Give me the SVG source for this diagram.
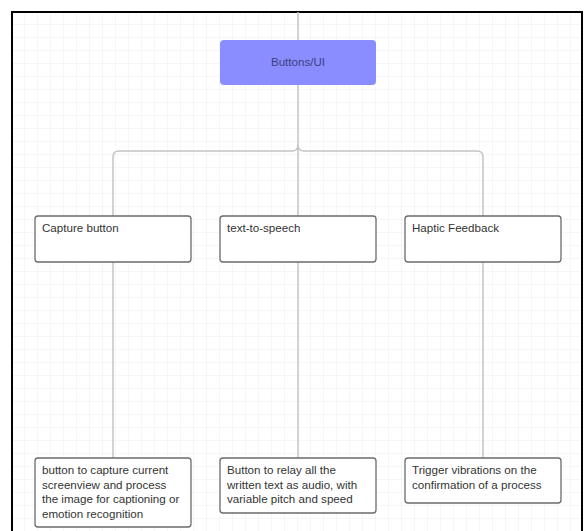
<svg xmlns="http://www.w3.org/2000/svg" width="588" height="531" viewBox="0 0 588 531">
<defs>
<pattern id="grid" width="13" height="13" patternUnits="userSpaceOnUse" x="12" y="12">
<path d="M13,0 V13 M0,13 H13" fill="none" stroke="#ececec" stroke-width="1"/>
</pattern>
<style>
.box{fill:#ffffff;stroke:#6b6b6b;stroke-width:1.3}
.t{font-family:"Liberation Sans",Arial,sans-serif;font-size:11.6px;fill:#333333}
.conn{fill:none;stroke:#c4c4c4;stroke-width:1.5}
</style>
</defs>
<rect x="0" y="0" width="588" height="531" fill="#ffffff"/>
<rect x="12" y="12" width="570" height="525" fill="url(#grid)"/>
<rect x="12" y="12" width="570" height="530" fill="none" stroke="#000000" stroke-width="2"/>
<g id="connectors">
<path class="conn" d="M298,12 V40" stroke="#9a9a9a"/>
<path class="conn" d="M298,85 V216"/>
<path class="conn" d="M298,145 Q298,151 292,151 H119 Q113,151 113,157 V216"/>
<path class="conn" d="M298,145 Q298,151 304,151 H477 Q483,151 483,157 V216"/>
<path class="conn" d="M113,262 V458"/>
<path class="conn" d="M298,262 V458"/>
<path class="conn" d="M483,262 V458"/>
</g>
<g id="buttons-ui">
<rect x="220" y="40" width="156" height="45" rx="4" fill="#8a8dff"/>
<text class="t" x="298" y="66" text-anchor="middle" fill="#3d3f7a" style="fill:#3d3f7a">Buttons/UI</text>
</g>
<g id="capture-button">
<rect class="box" x="35" y="216" width="156" height="46" rx="3"/>
<text class="t" x="42" y="232">Capture button</text>
</g>
<g id="text-to-speech">
<rect class="box" x="220" y="216" width="156" height="46" rx="3"/>
<text class="t" x="227" y="232">text-to-speech</text>
</g>
<g id="haptic-feedback">
<rect class="box" x="405" y="216" width="156" height="46" rx="3"/>
<text class="t" x="412" y="232">Haptic Feedback</text>
</g>
<g id="capture-desc">
<rect class="box" x="35" y="458" width="156" height="69" rx="3"/>
<text class="t" x="42" y="474">button to capture current</text>
<text class="t" x="42" y="488.5">screenview and process</text>
<text class="t" x="42" y="503">the image for captioning or</text>
<text class="t" x="42" y="517.5">emotion recognition</text>
</g>
<g id="tts-desc">
<rect class="box" x="220" y="458" width="156" height="55" rx="3"/>
<text class="t" x="227" y="474">Button to relay all the</text>
<text class="t" x="227" y="488.5">written text as audio, with</text>
<text class="t" x="227" y="503">variable pitch and speed</text>
</g>
<g id="haptic-desc">
<rect class="box" x="405" y="458" width="156" height="45" rx="3"/>
<text class="t" x="412" y="474">Trigger vibrations on the</text>
<text class="t" x="412" y="488.5">confirmation of a process</text>
</g>
</svg>
